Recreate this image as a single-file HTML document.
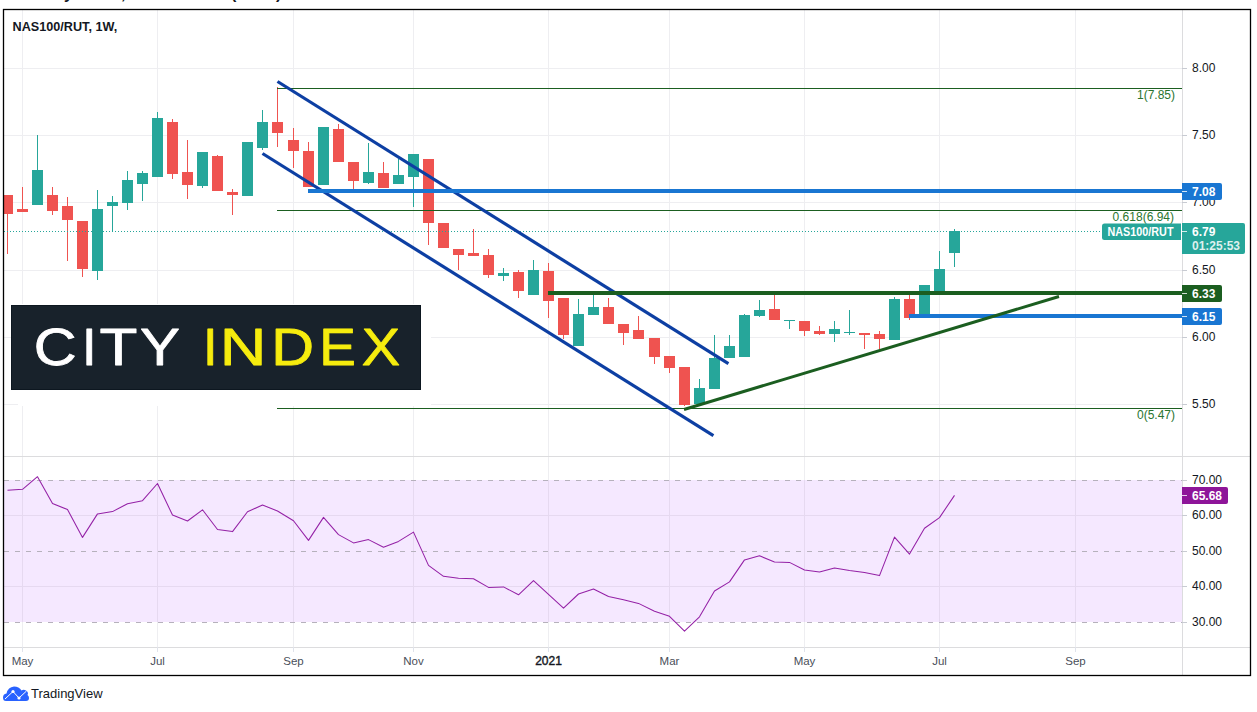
<!DOCTYPE html>
<html><head><meta charset="utf-8"><title>NAS100/RUT, 1W</title>
<style>html,body{margin:0;padding:0;background:#fff;width:1257px;height:712px;overflow:hidden;position:relative}</style>
</head><body>
<svg width="1257" height="712" viewBox="0 0 1257 712" style="position:absolute;left:0;top:0;display:block" font-family="'Liberation Sans', Arial, sans-serif">
<rect x="0" y="0" width="1257" height="712" fill="#ffffff"/>
<g fill="#131722" font-size="16" font-weight="bold">
<text x="64" y="-1.4">y</text>
<text x="121" y="-1.4">,</text>
<text x="231" y="-1.4">(</text>
<text x="276" y="-1.4">)</text>
</g>
<rect x="4" y="480" width="1178" height="142" fill="#F5E8FF"/>
<g fill="#EEEEF1">
<rect x="22" y="10" width="1" height="446"/>
<rect x="22" y="457" width="1" height="190"/>
<rect x="157" y="10" width="1" height="446"/>
<rect x="157" y="457" width="1" height="190"/>
<rect x="293" y="10" width="1" height="446"/>
<rect x="293" y="457" width="1" height="190"/>
<rect x="413" y="10" width="1" height="446"/>
<rect x="413" y="457" width="1" height="190"/>
<rect x="548" y="10" width="1" height="446"/>
<rect x="548" y="457" width="1" height="190"/>
<rect x="669" y="10" width="1" height="446"/>
<rect x="669" y="457" width="1" height="190"/>
<rect x="804" y="10" width="1" height="446"/>
<rect x="804" y="457" width="1" height="190"/>
<rect x="939" y="10" width="1" height="446"/>
<rect x="939" y="457" width="1" height="190"/>
<rect x="1075" y="10" width="1" height="446"/>
<rect x="1075" y="457" width="1" height="190"/>
<rect x="4" y="68" width="1178" height="1"/>
<rect x="4" y="135" width="1178" height="1"/>
<rect x="4" y="202" width="1178" height="1"/>
<rect x="4" y="270" width="1178" height="1"/>
<rect x="4" y="337" width="1178" height="1"/>
<rect x="4" y="404" width="1178" height="1"/>
<rect x="4" y="515" width="1178" height="1"/>
<rect x="4" y="586" width="1178" height="1"/>
</g>
<g fill="#E6D9F0">
<rect x="4" y="515" width="1178" height="1"/>
<rect x="4" y="586" width="1178" height="1"/>
<rect x="22" y="480" width="1" height="142"/>
<rect x="157" y="480" width="1" height="142"/>
<rect x="293" y="480" width="1" height="142"/>
<rect x="413" y="480" width="1" height="142"/>
<rect x="548" y="480" width="1" height="142"/>
<rect x="669" y="480" width="1" height="142"/>
<rect x="804" y="480" width="1" height="142"/>
<rect x="939" y="480" width="1" height="142"/>
<rect x="1075" y="480" width="1" height="142"/>
</g>
<line x1="4" y1="480.5" x2="1182" y2="480.5" stroke="#B6B1BC" stroke-width="1" stroke-dasharray="5 6"/>
<line x1="4" y1="551.5" x2="1182" y2="551.5" stroke="#B6B1BC" stroke-width="1" stroke-dasharray="5 6"/>
<line x1="4" y1="622.5" x2="1182" y2="622.5" stroke="#B6B1BC" stroke-width="1" stroke-dasharray="5 6"/>
<rect x="4" y="456" width="1246" height="1" fill="#DCDCDE"/>
<rect x="4" y="647" width="1246" height="1" fill="#DCDCDE"/>
<rect x="1182" y="10" width="1" height="665" fill="#DCDCDE"/>
<polyline points="7.5,490.3 22.5,489.3 37.5,476.7 52.5,503.5 67.5,509.6 82.5,537.4 97.5,513.9 112.5,511.6 127.5,503.7 142.5,500.7 157.5,483.5 172.5,515.1 187.5,521.0 202.5,509.8 217.5,529.5 232.5,531.6 247.5,511.8 262.5,505.0 277.5,511.0 293.5,520.7 308.5,540.4 323.5,517.4 338.5,534.6 353.5,542.9 368.5,539.6 383.5,547.2 398.5,541.4 413.5,532.1 428.5,565.4 443.5,576.3 458.5,578.3 473.5,578.8 488.5,587.4 503.5,586.9 518.5,594.8 533.5,580.6 548.5,594.4 563.5,608.2 578.5,594.0 593.5,589.0 608.5,596.5 623.5,599.8 638.5,603.4 654.5,611.2 669.5,616.3 684.5,631.2 699.5,616.8 714.5,591.0 729.5,581.9 744.5,559.9 759.5,555.8 774.5,561.9 789.5,562.4 804.5,570.0 819.5,572.0 834.5,568.0 849.5,570.5 864.5,572.5 879.5,575.6 894.5,537.1 909.5,554.1 924.5,528.3 939.5,517.6 954.5,495.4" fill="none" stroke="#9421A6" stroke-width="1.05" stroke-linejoin="round"/>
<rect x="7" y="195" width="1" height="59" fill="#EF5350"/>
<rect x="4" y="195" width="9" height="19" fill="#EF5350"/>
<rect x="22" y="187" width="1" height="25" fill="#EF5350"/>
<rect x="17" y="209" width="11" height="3" fill="#EF5350"/>
<rect x="37" y="135" width="1" height="70" fill="#26A69A"/>
<rect x="32" y="170" width="11" height="35" fill="#26A69A"/>
<rect x="52" y="187" width="1" height="28" fill="#EF5350"/>
<rect x="47" y="195" width="11" height="16" fill="#EF5350"/>
<rect x="67" y="197" width="1" height="64" fill="#EF5350"/>
<rect x="62" y="206" width="11" height="14" fill="#EF5350"/>
<rect x="82" y="221" width="1" height="56" fill="#EF5350"/>
<rect x="77" y="221" width="11" height="48" fill="#EF5350"/>
<rect x="97" y="190" width="1" height="90" fill="#26A69A"/>
<rect x="92" y="209" width="11" height="62" fill="#26A69A"/>
<rect x="112" y="196" width="1" height="36" fill="#26A69A"/>
<rect x="107" y="202" width="11" height="4" fill="#26A69A"/>
<rect x="127" y="171" width="1" height="39" fill="#26A69A"/>
<rect x="122" y="180" width="11" height="23" fill="#26A69A"/>
<rect x="142" y="171" width="1" height="30" fill="#26A69A"/>
<rect x="137" y="173" width="11" height="11" fill="#26A69A"/>
<rect x="157" y="112" width="1" height="65" fill="#26A69A"/>
<rect x="152" y="118" width="11" height="59" fill="#26A69A"/>
<rect x="172" y="119" width="1" height="60" fill="#EF5350"/>
<rect x="167" y="122" width="11" height="52" fill="#EF5350"/>
<rect x="187" y="140" width="1" height="59" fill="#EF5350"/>
<rect x="182" y="172" width="11" height="13" fill="#EF5350"/>
<rect x="202" y="152" width="1" height="36" fill="#26A69A"/>
<rect x="197" y="152" width="11" height="34" fill="#26A69A"/>
<rect x="217" y="155" width="1" height="36" fill="#EF5350"/>
<rect x="212" y="156" width="11" height="35" fill="#EF5350"/>
<rect x="232" y="189" width="1" height="26" fill="#EF5350"/>
<rect x="227" y="192" width="11" height="3" fill="#EF5350"/>
<rect x="247" y="142" width="1" height="54" fill="#26A69A"/>
<rect x="242" y="142" width="11" height="54" fill="#26A69A"/>
<rect x="262" y="110" width="1" height="40" fill="#26A69A"/>
<rect x="257" y="122" width="11" height="26" fill="#26A69A"/>
<rect x="277" y="87" width="1" height="60" fill="#EF5350"/>
<rect x="272" y="122" width="11" height="11" fill="#EF5350"/>
<rect x="293" y="128" width="1" height="40" fill="#EF5350"/>
<rect x="288" y="140" width="11" height="11" fill="#EF5350"/>
<rect x="308" y="142" width="1" height="45" fill="#EF5350"/>
<rect x="303" y="151" width="11" height="36" fill="#EF5350"/>
<rect x="323" y="127" width="1" height="58" fill="#26A69A"/>
<rect x="318" y="127" width="11" height="58" fill="#26A69A"/>
<rect x="338" y="124" width="1" height="38" fill="#EF5350"/>
<rect x="333" y="129" width="11" height="33" fill="#EF5350"/>
<rect x="353" y="162" width="1" height="27" fill="#EF5350"/>
<rect x="348" y="162" width="11" height="19" fill="#EF5350"/>
<rect x="368" y="143" width="1" height="41" fill="#26A69A"/>
<rect x="363" y="172" width="11" height="11" fill="#26A69A"/>
<rect x="383" y="162" width="1" height="26" fill="#EF5350"/>
<rect x="378" y="173" width="11" height="15" fill="#EF5350"/>
<rect x="398" y="159" width="1" height="25" fill="#26A69A"/>
<rect x="393" y="175" width="11" height="9" fill="#26A69A"/>
<rect x="413" y="154" width="1" height="53" fill="#26A69A"/>
<rect x="408" y="154" width="11" height="23" fill="#26A69A"/>
<rect x="428" y="159" width="1" height="86" fill="#EF5350"/>
<rect x="423" y="159" width="11" height="64" fill="#EF5350"/>
<rect x="443" y="223" width="1" height="25" fill="#EF5350"/>
<rect x="438" y="223" width="11" height="25" fill="#EF5350"/>
<rect x="458" y="249" width="1" height="21" fill="#EF5350"/>
<rect x="453" y="249" width="11" height="6" fill="#EF5350"/>
<rect x="473" y="229" width="1" height="27" fill="#EF5350"/>
<rect x="468" y="253" width="11" height="3" fill="#EF5350"/>
<rect x="488" y="249" width="1" height="29" fill="#EF5350"/>
<rect x="483" y="255" width="11" height="20" fill="#EF5350"/>
<rect x="503" y="268" width="1" height="13" fill="#26A69A"/>
<rect x="498" y="273" width="11" height="3" fill="#26A69A"/>
<rect x="518" y="270" width="1" height="28" fill="#EF5350"/>
<rect x="513" y="272" width="11" height="19" fill="#EF5350"/>
<rect x="533" y="260" width="1" height="35" fill="#26A69A"/>
<rect x="528" y="270" width="11" height="25" fill="#26A69A"/>
<rect x="548" y="263" width="1" height="55" fill="#EF5350"/>
<rect x="543" y="271" width="11" height="30" fill="#EF5350"/>
<rect x="563" y="298" width="1" height="41" fill="#EF5350"/>
<rect x="558" y="298" width="11" height="37" fill="#EF5350"/>
<rect x="578" y="299" width="1" height="47" fill="#26A69A"/>
<rect x="573" y="314" width="11" height="32" fill="#26A69A"/>
<rect x="593" y="293" width="1" height="22" fill="#26A69A"/>
<rect x="588" y="307" width="11" height="8" fill="#26A69A"/>
<rect x="608" y="298" width="1" height="26" fill="#EF5350"/>
<rect x="603" y="307" width="11" height="17" fill="#EF5350"/>
<rect x="623" y="324" width="1" height="21" fill="#EF5350"/>
<rect x="618" y="324" width="11" height="9" fill="#EF5350"/>
<rect x="638" y="316" width="1" height="23" fill="#EF5350"/>
<rect x="633" y="330" width="11" height="9" fill="#EF5350"/>
<rect x="654" y="338" width="1" height="26" fill="#EF5350"/>
<rect x="649" y="338" width="11" height="19" fill="#EF5350"/>
<rect x="669" y="356" width="1" height="17" fill="#EF5350"/>
<rect x="664" y="356" width="11" height="12" fill="#EF5350"/>
<rect x="684" y="367" width="1" height="39" fill="#EF5350"/>
<rect x="679" y="367" width="11" height="38" fill="#EF5350"/>
<rect x="699" y="379" width="1" height="25" fill="#26A69A"/>
<rect x="694" y="388" width="11" height="16" fill="#26A69A"/>
<rect x="714" y="335" width="1" height="54" fill="#26A69A"/>
<rect x="709" y="358" width="11" height="31" fill="#26A69A"/>
<rect x="729" y="335" width="1" height="23" fill="#26A69A"/>
<rect x="724" y="346" width="11" height="12" fill="#26A69A"/>
<rect x="744" y="314" width="1" height="43" fill="#26A69A"/>
<rect x="739" y="315" width="11" height="42" fill="#26A69A"/>
<rect x="759" y="300" width="1" height="17" fill="#26A69A"/>
<rect x="754" y="310" width="11" height="6" fill="#26A69A"/>
<rect x="774" y="295" width="1" height="25" fill="#EF5350"/>
<rect x="769" y="309" width="11" height="11" fill="#EF5350"/>
<rect x="789" y="320" width="1" height="9" fill="#26A69A"/>
<rect x="784" y="320" width="11" height="1" fill="#26A69A"/>
<rect x="804" y="321" width="1" height="15" fill="#EF5350"/>
<rect x="799" y="321" width="11" height="10" fill="#EF5350"/>
<rect x="819" y="326" width="1" height="9" fill="#EF5350"/>
<rect x="814" y="331" width="11" height="3" fill="#EF5350"/>
<rect x="834" y="321" width="1" height="21" fill="#26A69A"/>
<rect x="829" y="329" width="11" height="5" fill="#26A69A"/>
<rect x="849" y="310" width="1" height="25" fill="#26A69A"/>
<rect x="844" y="332" width="11" height="1" fill="#26A69A"/>
<rect x="864" y="333" width="1" height="16" fill="#EF5350"/>
<rect x="859" y="333" width="11" height="2" fill="#EF5350"/>
<rect x="879" y="331" width="1" height="18" fill="#EF5350"/>
<rect x="874" y="334" width="11" height="5" fill="#EF5350"/>
<rect x="894" y="297" width="1" height="43" fill="#26A69A"/>
<rect x="889" y="299" width="11" height="41" fill="#26A69A"/>
<rect x="909" y="295" width="1" height="25" fill="#EF5350"/>
<rect x="904" y="299" width="11" height="19" fill="#EF5350"/>
<rect x="924" y="285" width="1" height="29" fill="#26A69A"/>
<rect x="919" y="285" width="11" height="29" fill="#26A69A"/>
<rect x="939" y="251" width="1" height="40" fill="#26A69A"/>
<rect x="934" y="269" width="11" height="22" fill="#26A69A"/>
<rect x="954" y="229" width="1" height="38" fill="#26A69A"/>
<rect x="949" y="231" width="11" height="22" fill="#26A69A"/>
<rect x="277" y="88" width="905" height="1" fill="#1B5E20"/>
<rect x="277" y="210" width="905" height="1" fill="#1B5E20"/>
<rect x="277" y="408" width="905" height="1" fill="#1B5E20"/>
<line x1="4" y1="231.5" x2="1102" y2="231.5" stroke="#26A69A" stroke-width="1" stroke-dasharray="1 2"/>
<line x1="277.5" y1="81.5" x2="728.4" y2="363.6" stroke="#0D3FA3" stroke-width="3.2" stroke-linecap="butt"/>
<line x1="262.5" y1="153.5" x2="713.4" y2="435.6" stroke="#0D3FA3" stroke-width="3.2" stroke-linecap="butt"/>
<rect x="308" y="189" width="874" height="4" fill="#1976D2"/>
<rect x="548" y="291" width="634" height="4" fill="#1B5E20"/>
<rect x="909" y="314" width="273" height="4" fill="#1976D2"/>
<line x1="684" y1="409.5" x2="1059" y2="296.5" stroke="#1B5E20" stroke-width="3" stroke-linecap="butt"/>
<g fill="#2A7530" font-size="12" text-anchor="end">
<text x="1175" y="99.4">1(7.85)</text>
<text x="1174" y="221">0.618(6.94)</text>
<text x="1175" y="418.8">0(5.47)</text>
</g>
<g fill="#131722" font-size="12">
<rect x="1182" y="68" width="5" height="1" fill="#C8CBD2"/>
<text x="1192" y="71.9">8.00</text>
<rect x="1182" y="135" width="5" height="1" fill="#C8CBD2"/>
<text x="1192" y="138.9">7.50</text>
<rect x="1182" y="202" width="5" height="1" fill="#C8CBD2"/>
<text x="1192" y="205.9">7.00</text>
<rect x="1182" y="270" width="5" height="1" fill="#C8CBD2"/>
<text x="1192" y="273.9">6.50</text>
<rect x="1182" y="337" width="5" height="1" fill="#C8CBD2"/>
<text x="1192" y="340.9">6.00</text>
<rect x="1182" y="404" width="5" height="1" fill="#C8CBD2"/>
<text x="1192" y="407.9">5.50</text>
<rect x="1182" y="480" width="5" height="1" fill="#C8CBD2"/>
<text x="1192" y="483.9">70.00</text>
<rect x="1182" y="515" width="5" height="1" fill="#C8CBD2"/>
<text x="1192" y="518.9">60.00</text>
<rect x="1182" y="551" width="5" height="1" fill="#C8CBD2"/>
<text x="1192" y="554.9">50.00</text>
<rect x="1182" y="586" width="5" height="1" fill="#C8CBD2"/>
<text x="1192" y="589.9">40.00</text>
<rect x="1182" y="622" width="5" height="1" fill="#C8CBD2"/>
<text x="1192" y="625.9">30.00</text>
</g>
<path d="M1182 183 H1220 Q1222 183 1222 185 V198 Q1222 200 1220 200 H1182 Z" fill="#1976D2"/>
<rect x="1182" y="191" width="5" height="1" fill="#ffffff" fill-opacity="0.8"/>
<text x="1192" y="195.8" fill="#ffffff" font-size="12" font-weight="bold">7.08</text>
<path d="M1182 285 H1220 Q1222 285 1222 287 V300 Q1222 302 1220 302 H1182 Z" fill="#1B5E20"/>
<rect x="1182" y="293" width="5" height="1" fill="#ffffff" fill-opacity="0.8"/>
<text x="1192" y="297.8" fill="#ffffff" font-size="12" font-weight="bold">6.33</text>
<path d="M1182 308 H1220 Q1222 308 1222 310 V323 Q1222 325 1220 325 H1182 Z" fill="#1976D2"/>
<rect x="1182" y="316" width="5" height="1" fill="#ffffff" fill-opacity="0.8"/>
<text x="1192" y="320.8" fill="#ffffff" font-size="12" font-weight="bold">6.15</text>
<path d="M1182 487 H1226 Q1228 487 1228 489 V502 Q1228 504 1226 504 H1182 Z" fill="#8E1599"/>
<rect x="1182" y="495" width="5" height="1" fill="#ffffff" fill-opacity="0.8"/>
<text x="1192" y="499.8" fill="#ffffff" font-size="12" font-weight="bold">65.68</text>
<path d="M1182 223 H1243 Q1245 223 1245 225 V252 Q1245 254 1243 254 H1182 Z" fill="#26A69A"/>
<rect x="1182" y="231" width="5" height="1" fill="#ffffff" fill-opacity="0.8"/>
<text x="1192" y="235.6" fill="#ffffff" font-size="12" font-weight="bold">6.79</text>
<text x="1192" y="249.8" fill="#ffffff" fill-opacity="0.85" font-size="12" font-weight="bold">01:25:53</text>
<path d="M1104.5 223.5 H1181 V240 H1104.5 Q1102 240 1102 237.5 V226 Q1102 223.5 1104.5 223.5 Z" fill="#26A69A"/>
<text x="1107.5" y="236" fill="#ffffff" font-size="12" font-weight="bold" textLength="66" lengthAdjust="spacingAndGlyphs">NAS100/RUT</text>
<rect x="11" y="304" width="420" height="86" fill="#ffffff"/>
<rect x="18" y="390" width="413" height="16" fill="#ffffff"/>
<rect x="11" y="305" width="410" height="85" fill="#18222B"/>
<rect x="11.5" y="305.5" width="409" height="84" fill="none" stroke="#0D1720" stroke-width="1"/>
<g font-size="52.5" font-family="'Liberation Sans', Arial, sans-serif" stroke-width="0.8" stroke-linejoin="round">
<text transform="translate(33.64,364.7) scale(1.132,1)" fill="#ffffff" stroke="#ffffff">C</text>
<text transform="translate(82.00,364.7) scale(1.000,1)" fill="#ffffff" stroke="#ffffff">I</text>
<text transform="translate(99.44,364.7) scale(1.183,1)" fill="#ffffff" stroke="#ffffff">T</text>
<text transform="translate(139.89,364.7) scale(1.139,1)" fill="#ffffff" stroke="#ffffff">Y</text>
<text transform="translate(203.00,364.7) scale(1.000,1)" fill="#F6EC0E" stroke="#F6EC0E">I</text>
<text transform="translate(219.68,364.7) scale(1.232,1)" fill="#F6EC0E" stroke="#F6EC0E">N</text>
<text transform="translate(271.18,364.7) scale(1.129,1)" fill="#F6EC0E" stroke="#F6EC0E">D</text>
<text transform="translate(319.31,364.7) scale(1.047,1)" fill="#F6EC0E" stroke="#F6EC0E">E</text>
<text transform="translate(361.79,364.7) scale(1.094,1)" fill="#F6EC0E" stroke="#F6EC0E">X</text>
</g>
<text x="12.6" y="30.6" fill="#131722" font-size="12.2" font-weight="bold" textLength="104.6" lengthAdjust="spacingAndGlyphs">NAS100/RUT, 1W,</text>
<g fill="#4A4E59" font-size="11.5" text-anchor="middle">
<text x="22.5" y="665">May</text>
<text x="157.5" y="665">Jul</text>
<text x="293.5" y="665">Sep</text>
<text x="413.5" y="665">Nov</text>
<text x="669.5" y="665">Mar</text>
<text x="804.5" y="665">May</text>
<text x="939.5" y="665">Jul</text>
<text x="1075.5" y="665">Sep</text>
<text x="548.5" y="665" fill="#131722" stroke="#131722" stroke-width="0.4" font-size="12">2021</text>
</g>
<g fill="#E0E3EB">
<rect x="22" y="647" width="1" height="5"/>
<rect x="157" y="647" width="1" height="5"/>
<rect x="293" y="647" width="1" height="5"/>
<rect x="413" y="647" width="1" height="5"/>
<rect x="548" y="647" width="1" height="5"/>
<rect x="669" y="647" width="1" height="5"/>
<rect x="804" y="647" width="1" height="5"/>
<rect x="939" y="647" width="1" height="5"/>
<rect x="1075" y="647" width="1" height="5"/>
</g>
<rect x="3.5" y="9.5" width="1247" height="666" fill="none" stroke="#000000" stroke-width="1.3"/>
<g transform="translate(3,686)">
<path d="M3 15 Q0 15 0 11.5 Q0 8 3.5 7.5 Q5 1 11 0.5 Q16 0.5 18.5 4.5 Q20.5 3 23 4.5 Q26 6.5 24.5 9 Q26 10 26 12 Q26 15 23 15 Z" fill="#2962FF"/>
<polyline points="2,13 10,5.5 16,12 23.5,5" fill="none" stroke="#ffffff" stroke-width="1"/>
<circle cx="10" cy="5.5" r="1.6" fill="#ffffff"/><circle cx="16" cy="12" r="1.6" fill="#ffffff"/>
</g>
<text x="31" y="698" fill="#131722" font-size="13">TradingView</text>
</svg>
</body></html>
